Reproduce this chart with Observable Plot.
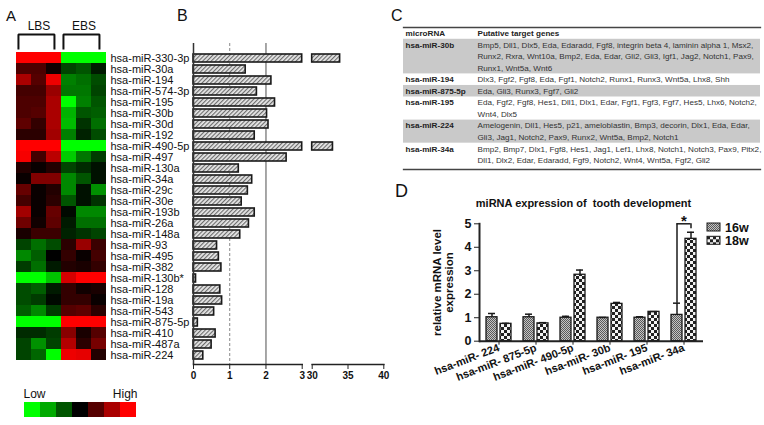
<!DOCTYPE html>
<html><head><meta charset="utf-8">
<script src="https://cdn.jsdelivr.net/npm/d3@7"></script>
<script src="https://cdn.jsdelivr.net/npm/@observablehq/plot@0.6"></script>
<style>
body{margin:0;background:#fff;}
#wrap{position:relative;width:764px;height:425px;overflow:hidden;font-family:"Liberation Sans",Arial,sans-serif;}
.pl{position:absolute;line-height:1;color:#111;white-space:nowrap;}
</style></head><body>
<svg width="0" height="0" style="position:absolute">
<defs>
<pattern id="hatch" width="3" height="3" patternUnits="userSpaceOnUse" patternTransform="rotate(45)">
<rect width="3" height="3" fill="#e8e8e8"/><line x1="0.6" y1="0" x2="0.6" y2="3" stroke="#666" stroke-width="1.1"/>
</pattern>
<pattern id="chk16" width="2" height="2" patternUnits="userSpaceOnUse">
<rect width="2" height="2" fill="#c4c4c4"/><rect width="1" height="1" fill="#5a5a5a"/><rect x="1" y="1" width="1" height="1" fill="#5a5a5a"/>
</pattern>
<pattern id="chk18" width="6" height="6" patternUnits="userSpaceOnUse">
<rect width="6" height="6" fill="#f4f4f4"/><rect width="3" height="3" fill="#222"/><rect x="3" y="3" width="3" height="3" fill="#222"/>
</pattern>
</defs></svg>
<div id="wrap"></div>
<script>
// ---------- Panel A: heatmap ----------
const mirnas = ["hsa-miR-330-3p","hsa-miR-30a","hsa-miR-194","hsa-miR-574-3p","hsa-miR-195","hsa-miR-30b","hsa-miR-30d","hsa-miR-192","hsa-miR-490-5p","hsa-miR-497","hsa-miR-130a","hsa-miR-34a","hsa-miR-29c","hsa-miR-30e","hsa-miR-193b","hsa-miR-26a","hsa-miR-148a","hsa-miR-93","hsa-miR-495","hsa-miR-382","hsa-miR-130b*","hsa-miR-128","hsa-miR-19a","hsa-miR-543","hsa-miR-875-5p","hsa-miR-410","hsa-miR-487a","hsa-miR-224"];
const samples = ["LBS1","LBS2","LBS3","EBS1","EBS2","EBS3"];
const lbs1 = [3,0.9,2.0,0.8,0.9,0.9,1.1,0.5,3,2.9,0.4,0.1,1.2,0.8,1.9,1.3,0.3,-0.8,-1.6,-0.7,-3,-0.9,-0.9,-1.1,-3,-0.5,-0.8,-0.8];
const lbs2 = [3,0.9,1.0,0.8,0.9,1.0,0.6,0.5,3,0.8,0.1,1.5,0.1,0.1,0.1,0.2,0.7,-1.3,-1.1,-1.3,-3,-1.1,-0.7,-1.6,-3,-0.5,-1.7,-1.2];
const lbs3 = [3,0.2,2.8,1.8,2.0,2.0,2.0,1.9,3,2.2,0.4,1.5,0.4,0.5,1.2,1.1,0.7,-0.9,0,-0.3,-2.3,-0.3,-0.1,-0.7,-3,-0.7,-0.8,-3];
const ebs1 = [-3,-0.8,-1.5,-1.4,-3,-2.1,-2.2,-1.5,-3,-2.4,-0.8,-1.6,-1.6,-1.0,-0.1,-0.3,-0.4,0.5,0.6,0.4,2.5,0.6,0.6,1.0,3,1.6,2.1,2.8];
const ebs2 = [-3,-1.0,-1.3,-1.4,-1.5,-1.0,-0.6,-0.4,-3,-1.4,-0.5,-1.0,-0.2,-0.2,-1.6,-1.3,-0.6,1.8,0.1,0.3,3,0.2,0.6,1.1,3,0.3,0.5,2.7];
const ebs3 = [-3,-0.3,-0.9,-0.8,-1.0,-1.1,-1.3,-0.9,-3,-0.7,-0.2,-0.2,-1.7,-0.6,-1.6,-1.3,-0.8,0.7,0.8,0.6,3,0.3,0.1,0.5,3,1.0,1.4,0.4];
const groupNames = ["LBS","EBS"];
const legendLevels = [-3,-2,-1,0,1,2,3];
const legendLabels = ["Low","High"];

// ---------- Panel B: fold change ----------
const foldChange = [33.9,1.44,2.15,1.75,2.25,2.03,2.07,1.69,32.9,2.57,1.25,1.62,1.5,1.33,1.69,1.53,1.29,0.65,0.70,0.77,0.07,0.74,0.79,0.57,0.12,0.61,0.50,0.27];
const bTicksLow = [0,1,2,3];
const bTicksHigh = [30,35,40];

// ---------- Panel C: table ----------
const tableHeader = ["microRNA","Putative target genes"];
const tableMirnas = ["hsa-miR-30b","hsa-miR-194","hsa-miR-875-5p","hsa-miR-195","hsa-miR-224","hsa-miR-34a"];
const tableTargets = [
 ["Bmp5, Dll1, Dlx5, Eda, Edaradd, Fgf8, integrin beta 4, laminin alpha 1, Msx2,","Runx2, Rxra, Wnt10a, Bmp2, Eda, Edar, Gli2, Gli3, Igf1, Jag2, Notch1, Pax9,","Runx1, Wnt5a, Wnt6"],
 ["Dlx3, Fgf2, Fgf8, Eda, Fgf1, Notch2, Runx1, Runx3, Wnt5a, Lhx8, Shh"],
 ["Eda, Gli3, Runx3, Fgf7, Gli2"],
 ["Eda, Fgf2, Fgf8, Hes1, Dll1, Dlx1, Edar, Fgf1, Fgf3, Fgf7, Hes5, Lhx6, Notch2,","Wnt4, Dlx5"],
 ["Amelogenin, Dll1, Hes5, p21, ameloblastin, Bmp3, decorin, Dlx1, Eda, Edar,","Gli3, Jag1, Notch2, Pax9, Runx2, Wnt5a, Bmp2, Notch1"],
 ["Bmp2, Bmp7, Dlx1, Fgf8, Hes1, Jag1, Lef1, Lhx8, Notch1, Notch3, Pax9, Pitx2,","Dll1, Dlx2, Edar, Edaradd, Fgf9, Notch2, Wnt4, Wnt5a, Fgf2, Gli2"]
];
const tableShaded = [true,false,true,false,true,false];

// ---------- Panel D: qPCR ----------
const qTitle = "miRNA expression of  tooth development";
const qYLabel = ["relative mRNA level","expression"];
const qGroups = ["hsa-miR- 224","hsa-miR- 875-5p","hsa-miR- 490-5p","hsa-miR- 30b","hsa-miR- 195","hsa-miR- 34a"];
const qSeries = ["16w","18w"];
const w16 = [1.02,1.02,1.0,1.0,1.0,1.12];
const w16err = [0.16,0.13,0.06,0.01,0.04,0.5];
const w18 = [0.74,0.76,2.83,1.59,1.25,4.36];
const w18err = [0.02,0.03,0.2,0.06,0.01,0.28];
const qYTicks = [0,1,2,3,4,5];
const sigIndex = 5;
const sigLabel = "*";

// ---------- helpers ----------
const FONT = "Liberation Sans, Arial, sans-serif";
const wrap = document.getElementById("wrap");
function mount(svg){
  svg.style.position = "absolute"; svg.style.left = "0px"; svg.style.top = "0px";
  svg.style.background = "transparent"; svg.style.overflow = "visible";
  svg.style.maxWidth = "none";
  wrap.appendChild(svg);
}
function base(o){ return Object.assign({width:764, height:425, style:{fontFamily:FONT, background:"transparent"}}, o); }
const colorScale = {type:"linear", domain:[-3,0,3], range:["#00ff00","#000000","#ff0000"]};
const intFmt = d3.format("d");

// group brackets (A)
const bracketPts = groupNames.flatMap((n,k)=>{
  const s = k*3 + 0.13, e = k*3 + 3 - 0.47;
  return [{g:n,x:s,y:0},{g:n,x:s,y:1},{g:n,x:e,y:1},{g:n,x:e,y:0}];
});
const groupLabels = groupNames.map((n,k)=>({name:n, x:k*3+1.5}));
mount(Plot.plot(base({
  marginLeft:16, marginRight:658, marginTop:34, marginBottom:377,
  x:{domain:[0,6], axis:null},
  y:{domain:[0,1], axis:null},
  marks:[
    Plot.line(bracketPts,{x:"x", y:"y", z:"g", stroke:"#111", strokeWidth:2, strokeLinejoin:"miter", strokeLinecap:"square"}),
    Plot.text(groupLabels,{x:"x", y:1, dy:-8, text:"name", fontSize:12, fill:"#111"})
  ]
})));

// heatmap
const cols = [lbs1,lbs2,lbs3,ebs1,ebs2,ebs3];
const cells = mirnas.flatMap((m,i)=>samples.map((s,j)=>({mirna:m, sample:s, v:cols[j][i]})));
mount(Plot.plot(base({
  marginLeft:16, marginRight:658, marginTop:48, marginBottom:61,
  x:{type:"band", domain:samples, padding:0, axis:null},
  y:{type:"band", domain:mirnas, padding:0, axis:null},
  color:colorScale,
  marks:[
    Plot.cell(cells,{x:"sample", y:"mirna", fill:"v", shapeRendering:"crispEdges"}),
    Plot.axisY({anchor:"right", label:null, tickSize:0, tickPadding:4, fontSize:11, fill:"#111"})
  ]
})));

// Low/High legend
mount(Plot.plot(base({
  marginLeft:23, marginRight:627, marginTop:402, marginBottom:8,
  x:{type:"band", domain:legendLevels, padding:0, axis:null},
  color:colorScale,
  marks:[
    Plot.cell(legendLevels,{x:d=>d, fill:d=>d, shapeRendering:"crispEdges"}),
    Plot.text([legendLabels[0]],{frameAnchor:"top-left", dy:-8, lineAnchor:"middle", textAnchor:"start", fontSize:12, fill:"#111"}),
    Plot.text([legendLabels[1]],{frameAnchor:"top-right", dy:-8, lineAnchor:"middle", textAnchor:"end", fontSize:12, fill:"#111"})
  ]
})));

// ---------- Panel B ----------
const fc = mirnas.map((m,i)=>({mirna:m, v:foldChange[i]}));
const bY = {type:"band", domain:mirnas, range:[47.8,365.2], padding:0.287, axis:null};
mount(Plot.plot(base({
  marginLeft:193, marginRight:462.3, marginTop:43, marginBottom:61,
  x:{domain:[0,3], axis:null},
  y:bY,
  marks:[
    Plot.ruleX([1],{stroke:"#888", strokeWidth:1, strokeDasharray:"3,2"}),
    Plot.ruleX([2],{stroke:"#777", strokeWidth:1.3}),
    Plot.barX(fc,{x1:0, x2:d=>Math.min(d.v,3), y:"mirna", fill:"url(#hatch)", stroke:"#1a1a1a", strokeWidth:1.6}),
    Plot.ruleX([0],{stroke:"#333", strokeWidth:1.5}),
    Plot.frame({anchor:"bottom", stroke:"#222", strokeWidth:1.6}),
    Plot.axisX({ticks:bTicksLow, tickFormat:intFmt, label:null, tickSize:5, tickPadding:2, fontSize:10, fontWeight:"bold", stroke:"#222", fill:"#111"})
  ]
})));
mount(Plot.plot(base({
  marginLeft:311.7, marginRight:380.7, marginTop:43, marginBottom:61,
  x:{domain:[30,40], axis:null},
  y:bY,
  marks:[
    Plot.barX(fc.filter(d=>d.v>30),{x1:30, x2:"v", y:"mirna", fill:"url(#hatch)", stroke:"#1a1a1a", strokeWidth:1.6}),
    Plot.frame({anchor:"bottom", stroke:"#222", strokeWidth:1.6}),
    Plot.axisX({ticks:bTicksHigh, tickFormat:intFmt, label:null, tickSize:5, tickPadding:2, fontSize:10, fontWeight:"bold", stroke:"#222", fill:"#111"})
  ]
})));

// ---------- Panel C ----------
const tLines = [], tNames = [], tShade = [];
let line = 1;
tableMirnas.forEach((m,k)=>{
  tNames.push({line, text:m});
  const start = line;
  tableTargets[k].forEach(t=>{ tLines.push({line, text:t}); line++; });
  if (tableShaded[k]) tShade.push({y1:start-0.5, y2:line-0.5});
});
const TF = 8.1;
mount(Plot.plot(base({
  marginLeft:403, marginRight:4, marginTop:27, marginBottom:256,
  x:{domain:[0,1], axis:null},
  y:{domain:[-0.52,11.78], reverse:true, axis:null},
  marks:[
    Plot.rect(tShade,{y1:"y1", y2:"y2", fill:"#c9c9c9"}),
    Plot.frame({anchor:"top", stroke:"#444", strokeWidth:1.3}),
    Plot.frame({anchor:"bottom", stroke:"#444", strokeWidth:1.3}),
    Plot.text([tableHeader[0]],{y:0, frameAnchor:"left", dx:2, textAnchor:"start", fontSize:TF, fontWeight:"bold", fill:"#222"}),
    Plot.text([tableHeader[1]],{y:0, frameAnchor:"left", dx:74, textAnchor:"start", fontSize:TF, fontWeight:"bold", fill:"#222"}),
    Plot.text(tNames,{y:"line", text:"text", frameAnchor:"left", dx:2, textAnchor:"start", fontSize:TF, fontWeight:"bold", fill:"#222"}),
    Plot.text(tLines,{y:"line", text:"text", frameAnchor:"left", dx:74, textAnchor:"start", fontSize:TF, fill:"#333"})
  ]
})));

// ---------- Panel D ----------
const d16 = qGroups.map((g,i)=>({g, v:w16[i], e:w16err[i]}));
const d18 = qGroups.map((g,i)=>({g, v:w18[i], e:w18err[i]}));
const sig = [{g:qGroups[sigIndex], yl:w16[sigIndex]+w16err[sigIndex], yr:w18[sigIndex]+w18err[sigIndex]+0.15, top:qYTicks[qYTicks.length-1]}];
mount(Plot.plot(base({
  marginLeft:479, marginRight:61, marginTop:223.3, marginBottom:84.3,
  x:{type:"band", domain:qGroups, paddingInner:0.33, paddingOuter:0.165, axis:null},
  y:{domain:[0,5], axis:null},
  marks:[
    Plot.barY(d16,{x:"g", y:"v", insetRight:14, fill:"url(#chk16)", stroke:"#1a1a1a", strokeWidth:1.3}),
    Plot.barY(d18,{x:"g", y:"v", insetLeft:14, fill:"url(#chk18)", stroke:"#1a1a1a", strokeWidth:1.3}),
    Plot.ruleX(d16,{x:"g", y1:"v", y2:d=>d.v+d.e, dx:-7, stroke:"#1a1a1a", strokeWidth:1.5}),
    Plot.tickY(d16,{x:"g", y:d=>d.v+d.e, insetLeft:2, insetRight:16, stroke:"#1a1a1a", strokeWidth:1.5}),
    Plot.ruleX(d18,{x:"g", y1:"v", y2:d=>d.v+d.e, dx:7, stroke:"#1a1a1a", strokeWidth:1.5}),
    Plot.tickY(d18,{x:"g", y:d=>d.v+d.e, insetLeft:16, insetRight:2, stroke:"#1a1a1a", strokeWidth:1.5}),
    Plot.ruleX(sig,{x:"g", y1:"yl", y2:"top", dx:-7, stroke:"#1a1a1a", strokeWidth:1.5}),
    Plot.ruleX(sig,{x:"g", y1:"yr", y2:"top", dx:7, stroke:"#1a1a1a", strokeWidth:1.5}),
    Plot.tickY(sig,{x:"g", y:"top", insetLeft:5.5, insetRight:5.5, stroke:"#1a1a1a", strokeWidth:1.5}),
    Plot.text(sig,{x:"g", y:"top", text:()=>sigLabel, dy:-3, fontSize:15, fontWeight:"bold", fill:"#111"}),
    Plot.ruleY([0],{stroke:"#222", strokeWidth:2}),
    Plot.frame({anchor:"left", stroke:"#222", strokeWidth:2}),
    Plot.axisX({label:null, tickSize:4, tickPadding:2, tickRotate:-21, fontSize:11, fontWeight:"bold", stroke:"#222", fill:"#111"}),
    Plot.axisY({ticks:qYTicks, tickFormat:intFmt, label:null, tickSize:5, tickPadding:3, fontSize:12.5, fontWeight:"bold", stroke:"#222", fill:"#111"}),
    Plot.text([qYLabel[0]],{frameAnchor:"left", dx:-42.5, rotate:-90, textAnchor:"middle", lineAnchor:"middle", fontSize:11.5, fontWeight:"bold", fill:"#111"}),
    Plot.text([qYLabel[1]],{frameAnchor:"left", dx:-30.5, rotate:-90, textAnchor:"middle", lineAnchor:"middle", fontSize:11.5, fontWeight:"bold", fill:"#111"}),
    Plot.text([qTitle],{frameAnchor:"top", dx:-8, dy:-20, lineAnchor:"middle", fontSize:11, fontWeight:"bold", fill:"#111"})
  ]
})));

// legend for D
const legD = d3.select(wrap).append("svg").attr("width",764).attr("height",425)
  .style("position","absolute").style("left","0px").style("top","0px").style("overflow","visible");
const pats = ["url(#chk16)","url(#chk18)"];
qSeries.forEach((s,k)=>{
  const g = legD.append("g").attr("transform",`translate(707,${223+k*13.3})`);
  g.append("rect").attr("width",13).attr("height",8).attr("fill",pats[k]).attr("stroke","#1a1a1a").attr("stroke-width",1);
  g.append("text").attr("x",18).attr("y",4).attr("dy","0.36em").attr("font-family",FONT).attr("font-size",12.5).attr("font-weight","bold").attr("fill","#111").text(s);
});

// panel letters
[["A",6,8,15],["B",177,8,16],["C",391,8,16],["D",395,182,18]].forEach(([t,x,y,s])=>{
  const d = document.createElement("div"); d.className="pl"; d.textContent=t;
  d.style.left=x+"px"; d.style.top=y+"px"; d.style.fontSize=s+"px"; wrap.appendChild(d);
});
</script>
</body></html>
